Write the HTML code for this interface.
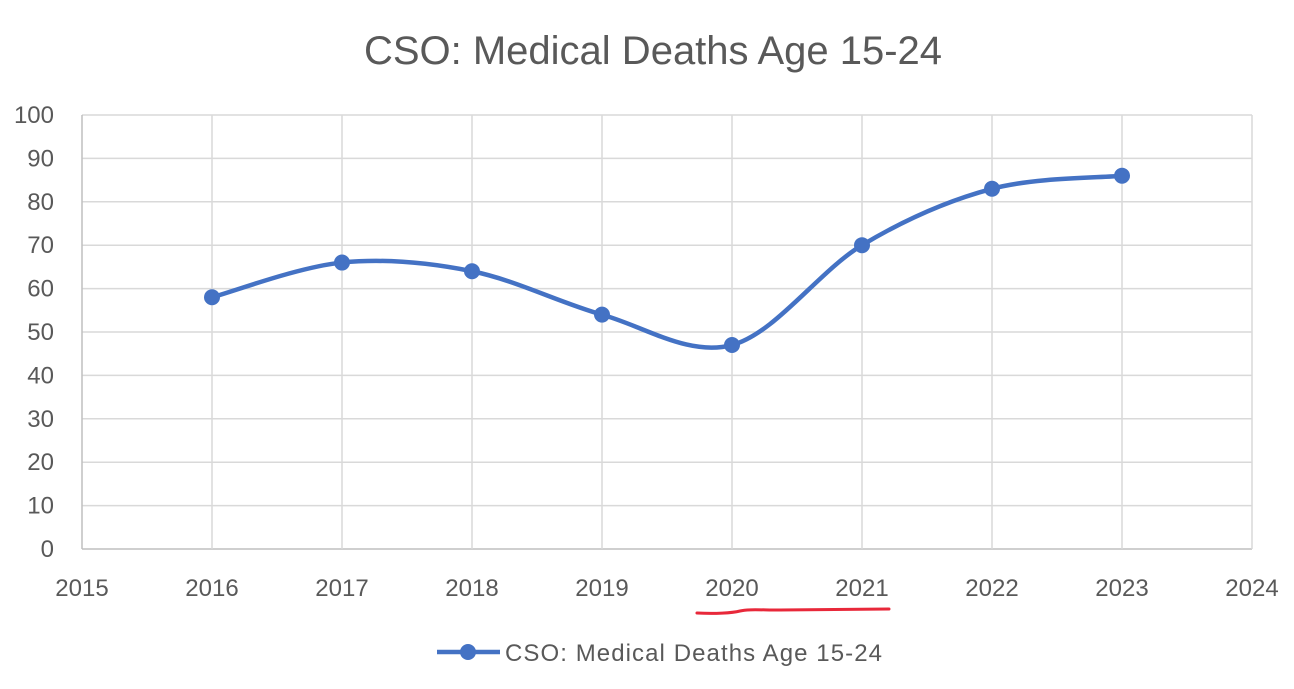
<!DOCTYPE html>
<html><head><meta charset="utf-8"><style>
html,body{margin:0;padding:0;background:#fff;}
svg text{font-family:"Liberation Sans",sans-serif;fill:#595959;}
</style></head><body>
<svg id="chart" width="1294" height="684" viewBox="0 0 1294 684" xmlns="http://www.w3.org/2000/svg">
<text x="653" y="64" font-size="40" text-anchor="middle">CSO: Medical Deaths Age 15-24</text>
<g id="grid"></g>
<g id="ticks"></g>
<path id="series" fill="none" stroke="#4472C4" stroke-width="4.5"/>
<g id="points"></g>
<path d="M697,613 C715,614 732,613 740,611 C748,609 760,610 780,610 L889,609" fill="none" stroke="#e8283a" stroke-width="3" stroke-linecap="round"/>
<g>
<line x1="437" y1="652" x2="500" y2="652" stroke="#4472C4" stroke-width="4.5"/>
<circle cx="468" cy="652" r="8" fill="#4472C4"/>
<text x="505" y="661" font-size="24" textLength="377" lengthAdjust="spacing">CSO: Medical Deaths Age 15-24</text>
</g>
</svg>
<script>
const years = [2016, 2017, 2018, 2019, 2020, 2021, 2022, 2023];
const values = [58, 66, 64, 54, 47, 70, 83, 86];
const xTicks = [2015, 2016, 2017, 2018, 2019, 2020, 2021, 2022, 2023, 2024];
const yTicks = [0, 10, 20, 30, 40, 50, 60, 70, 80, 90, 100];

const NS = "http://www.w3.org/2000/svg";
const X0 = 82, X1 = 1252, Y0 = 549, Y1 = 115;
const xScale = v => X0 + (v - 2015) / 9 * (X1 - X0);
const yScale = v => Y0 - v / 100 * (Y0 - Y1);
function mk(tag, attrs, parent) { const e = document.createElementNS(NS, tag); for (const k in attrs) e.setAttribute(k, attrs[k]); parent.appendChild(e); return e; }
const grid = document.getElementById('grid'), ticks = document.getElementById('ticks');
yTicks.forEach(t => {
  const l = mk('line', {x1: X0, x2: X1, y1: yScale(t), y2: yScale(t), stroke: t === 0 ? '#bfbfbf' : '#d9d9d9', 'stroke-width': 1.5}, grid);
  
  
  const tx = mk('text', {x: 54, y: yScale(t) + 8, 'font-size': 24, 'text-anchor': 'end'}, ticks);
  tx.textContent = t;
  
  
});
xTicks.forEach(t => {
  const l = mk('line', {x1: xScale(t), x2: xScale(t), y1: Y1, y2: Y0, stroke: t === 2015 ? '#bfbfbf' : '#d9d9d9', 'stroke-width': 1.5}, grid);
  
  
  const tx = mk('text', {x: xScale(t), y: 596, 'font-size': 24, 'text-anchor': 'middle'}, ticks);
  tx.textContent = t;
  
  
});
const pts = years.map((y, i) => [xScale(y), yScale(values[i])]);
let d = 'M' + pts[0][0] + ',' + pts[0][1];
for (let i = 0; i < pts.length - 1; i++) {
  const p0 = pts[Math.max(0, i - 1)], p1 = pts[i], p2 = pts[i + 1], p3 = pts[Math.min(pts.length - 1, i + 2)];
  const c1 = [p1[0] + (p2[0] - p0[0]) / 6, p1[1] + (p2[1] - p0[1]) / 6];
  const c2 = [p2[0] - (p3[0] - p1[0]) / 6, p2[1] - (p3[1] - p1[1]) / 6];
  d += ' C' + c1 + ' ' + c2 + ' ' + p2;
}
document.getElementById('series').setAttribute('d', d);
const pg = document.getElementById('points');
pts.forEach(p => {
  const c = mk('circle', {cx: p[0], cy: p[1], r: 8, fill: '#4472C4'}, pg);
  
  
});
</script>
</body></html>
